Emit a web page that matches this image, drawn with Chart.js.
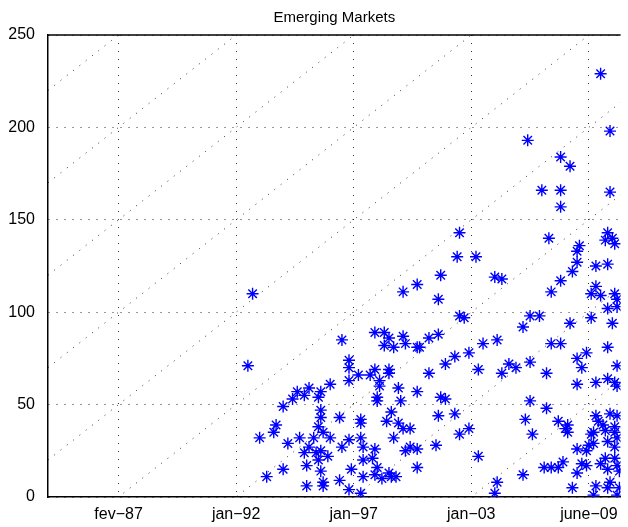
<!DOCTYPE html>
<html>
<head>
<meta charset="utf-8">
<title>Emerging Markets</title>
<script src="https://cdn.jsdelivr.net/npm/chart.js@4.4.1/dist/chart.umd.min.js"></script>
<style>
  html, body { margin: 0; padding: 0; background: #fff; }
  canvas { display: block; }
</style>
</head>
<body>
<canvas id="emChart" width="628" height="527"></canvas>
<script>
const obsIndex = [
  107, 105, 113, 110, 116, 117, 120, 120, 122, 124, 126, 129, 131, 127, 129, 130, 130, 133, 134, 131,
  135, 136, 135, 137, 136, 136, 136, 135, 136, 137, 137, 139, 140, 140, 144, 145, 144, 145,
  159, 163, 165, 171, 172, 163, 167, 177, 178, 182, 186, 148, 148, 189, 152, 157, 159, 165, 165, 182,
  148, 161, 161, 169, 177, 160, 160, 170, 187, 189, 166, 153, 153, 164, 169, 171, 174, 186, 167, 153,
  148, 154, 159, 172, 174, 177, 185, 154, 158, 149, 160, 177, 159, 162, 165, 166, 168, 154, 148, 153,
  171, 177, 186, 187, 194, 195, 202, 195, 197, 210, 213, 222, 225, 229, 224, 238, 242, 230, 238, 259,
  238, 255, 259,
  211, 205, 199, 193, 225, 216, 219, 213, 203, 225, 193, 223, 199, 195, 226, 203, 222, 211, 210,
  233, 258, 257, 261, 260, 246, 245, 245, 243, 253, 258, 238, 234, 253, 251, 255, 261, 262, 258, 262,
  251, 260, 242, 234, 238, 258, 249, 245, 247, 262, 232, 245, 253, 258, 261, 262, 232, 253, 259, 262,
  254, 256, 237, 241, 241, 240, 261, 261, 252, 251, 257, 252, 262, 261, 258, 245, 249, 250, 261, 257,
  239, 231, 234, 237, 247, 249, 255, 262, 245, 258, 263, 243, 253, 258, 259, 263, 252, 262
];
const obsValue = [
  110, 71, 11, 32, 35, 39, 49, 15, 29, 53, 57, 55, 59, 32, 24, 17, 6, 32, 24, 27,
  54, 57, 38, 35, 47, 43, 25, 20, 14, 8, 6, 22, 32, 61, 43, 27, 9, 85,
  89, 89, 86, 87, 83, 82, 81, 81, 81, 86, 88, 74, 70, 72, 66, 66, 69, 69, 67, 67,
  63, 63, 60, 59, 57, 54, 52, 52, 54, 53, 46, 42, 40, 41, 40, 37, 37, 44, 32, 32,
  31, 27, 26, 25, 27, 26, 28, 20, 21, 15, 16, 16, 12, 10, 13, 11, 11, 11, 4, 2,
  111, 115, 107, 120, 130, 143, 130, 98, 97, 119, 118, 92, 98, 98, 193, 184, 179, 166, 166, 165,
  157, 229, 198,
  85, 83, 78, 76, 73, 72, 70, 67, 69, 52, 45, 42, 37, 34, 34, 22, 12, 8, 2,
  140, 143, 139, 137, 140, 136, 133, 127, 122, 125, 126, 117, 111, 114, 110, 109, 110, 107, 102, 103,
  97, 94, 94, 83, 83, 81, 78, 75, 70, 71, 67, 61, 62, 64, 62, 60, 48, 44, 45, 44,
  41, 39, 41, 39, 35, 37, 38, 35, 35, 34, 36, 29, 32, 27, 30, 26, 25, 28, 21, 21,
  19, 16, 16, 16, 18, 17, 18, 17, 13, 15, 14, 5, 6, 5, 8, 5, 1, 1
];

// x ticks sit on observation numbers and carry dates
const tickPos = [50, 100, 150, 200, 250];
const tickLabels = ['fev\u221287', 'jan\u221292', 'jan\u221297', 'jan\u221203', 'june\u221209'];
const yTicks = [0, 50, 100, 150, 200, 250];

// dotted 45 degree guides, y = x + c
const guideOffsets = [-250, -200, -150, -100, -50, 0, 50, 100, 150, 200];

const xMin = 20, xMax = 263.5;
const FONT = '"Liberation Sans", Arial, Helvetica, sans-serif';
const dotColor = 'rgba(0,0,0,0.8)';

const points = obsIndex.map((x, i) => ({ x: x, y: obsValue[i] }));

const guides = guideOffsets.map(c => ({
  data: [{ x: xMin, y: xMin + c }, { x: xMax, y: xMax + c }],
  showLine: true,
  borderColor: dotColor,
  borderWidth: 1,
  borderDash: [1, 7],
  pointRadius: 0,
  order: 1
}));

// solid line along the top of the axes box
const topFrame = {
  id: 'topFrame',
  beforeDatasetsDraw(chart) {
    const { ctx, chartArea: a } = chart;
    ctx.save();
    ctx.strokeStyle = '#000';
    ctx.lineWidth = 1.5;
    ctx.beginPath();
    ctx.moveTo(a.left, a.top);
    ctx.lineTo(a.right, a.top);
    ctx.stroke();
    ctx.restore();
  }
};

new Chart(document.getElementById('emChart'), {
  type: 'scatter',
  data: {
    datasets: [{
      data: points,
      pointStyle: 'star',
      pointRadius: 6,
      borderColor: '#0000ff',
      backgroundColor: '#0000ff',
      borderWidth: 1.4,
      order: 0
    }].concat(guides)
  },
  options: {
    responsive: false,
    animation: false,
    events: [],
    layout: { padding: 0 },
    plugins: {
      legend: { display: false },
      tooltip: { enabled: false },
      title: {
        display: true,
        fullSize: false,
        text: 'Emerging Markets',
        color: '#000',
        font: { family: FONT, size: 15, weight: 'normal', lineHeight: 1.2 },
        padding: { top: 9, bottom: 8 }
      }
    },
    scales: {
      x: {
        type: 'linear',
        min: xMin,
        max: xMax,
        afterBuildTicks: s => { s.ticks = tickPos.map(v => ({ value: v })); },
        afterFit: s => { s.height = 30; },
        ticks: {
          callback: v => tickLabels[tickPos.indexOf(v)],
          color: '#000',
          font: { family: FONT, size: 16 },
          padding: 8,
          maxRotation: 0,
          autoSkip: false
        },
        grid: { color: dotColor, drawTicks: false, lineWidth: 1 },
        border: { display: true, color: '#000', width: 1.5, dash: [1, 7] }
      },
      y: {
        min: 0,
        max: 250,
        afterBuildTicks: s => { s.ticks = yTicks.map(v => ({ value: v })); },
        afterFit: s => { s.width = 48; },
        ticks: {
          color: '#000',
          font: { family: FONT, size: 16 },
          padding: 13
        },
        grid: { color: dotColor, drawTicks: false, lineWidth: 1 },
        border: { display: true, color: '#000', width: 1.5, dash: [1, 7] }
      }
    }
  },
  plugins: [topFrame]
});
</script>
</body>
</html>
